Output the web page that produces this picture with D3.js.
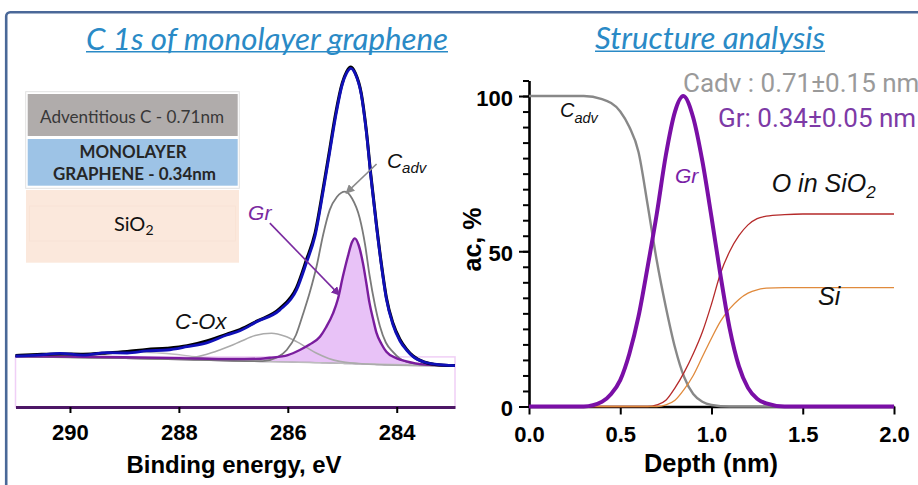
<!DOCTYPE html>
<html><head><meta charset="utf-8">
<script src="https://cdn.jsdelivr.net/npm/d3@7"></script>
<style>body{margin:0;background:#fff;} svg{display:block;}</style>
</head><body><svg id="c" width="918" height="485"></svg>
<script>
// ---------- LEFT: C 1s spectrum (binding energy in eV, intensity arb. units) ----------
const eEnv = [291.0,290.6,290.18,289.76,289.32,288.95,288.59,288.22,287.85,287.49,287.12,286.88,286.57,286.15,285.84,285.66,285.5,285.35,285.23,285.12,285.0,284.92,284.84,284.76,284.65,284.56,284.47,284.37,284.28,284.19,284.07,283.94,283.82,283.70,283.5,283.3,282.93];
const iEnvelope = [17.0,17.3,17.9,17.3,18.1,18.0,18.7,19.0,20.1,21.4,24.0,25.4,28.4,32.3,39,48,57,72,85,97,107.5,111.3,112.9,111,104,92,76,60,47,36,27.5,22,19,16.8,15,14.3,13.8];
const iRaw = [17.2,17.5,17.7,17.6,18.0,18.5,19.2,19.6,20.4,22.0,24.3,25.8,28.6,32.8,39.8,49,58,73,86,98,108,111.8,113.3,111.3,104.5,92.5,76.5,60.5,47.5,36.5,28,22.5,19.3,17,15,14.2,13.8];

const eGr = [291.0,290,289,288,287,286.5,286.33,286.0,285.78,285.6,285.41,285.3,285.17,285.08,284.99,284.9,284.82,284.77,284.7,284.62,284.56,284.5,284.43,284.37,284.28,284.19,284.0,283.82,283.52,282.93];
const iGr = [16.9,16.8,16.6,16.3,16.0,16.1,16.4,17.3,19.0,20.8,23.4,26.5,31.2,36.0,43.4,50.0,55.0,56.2,54.0,47.9,41.5,34.7,29.0,24.6,21.0,18.4,16.2,15.2,14.2,13.8];
const iBackground = [16.8,16.5,16.2,15.8,15.3,15.15,15.1,15.0,14.9,14.85,14.75,14.7,14.6,14.55,14.5,14.45,14.42,14.4,14.35,14.3,14.27,14.25,14.2,14.15,14.1,14.05,14.0,13.9,13.8,13.7];

const eCadv = [291.0,289,288,287,286.46,286.2,286.02,285.85,285.72,285.6,285.47,285.35,285.23,285.1,284.95,284.82,284.68,284.58,284.5,284.4,284.31,284.2,284.07,283.95,283.82,283.5,282.93];
const iCadv = [16.8,16.3,15.9,15.4,15.3,16.5,19,24,31,38,47,57.5,65.7,70,71.8,69.5,63,54,44,34,27,21.5,18.4,16.3,15,14.1,13.7];

const eCOx = [291.0,289,288.2,287.8,287.5,287.25,287.06,286.85,286.6,286.3,286.05,285.84,285.65,285.47,285.25,285.05,284.7,284.3,282.93];
const iCOx = [16.8,16.3,15.9,16.4,17.5,19,20.3,22,23.8,24.6,23.6,21.8,19.8,17.9,16.2,15.2,14.5,14.1,13.7];

const eCO2 = [291.0,290.2,289.6,289.1,288.7,288.3,287.9,287.5,287.0,286,282.93];
const iCO2 = [16.8,17.0,17.5,18.0,18.2,17.9,17.2,16.3,15.5,15.0,13.7];

const beTicks = [290,288,286,284];

// ---------- RIGHT: structure analysis (depth nm, atomic concentration %) ----------
const dCadv = [0,0.30,0.40,0.50,0.55,0.60,0.65,0.70,0.75,0.80,0.85,0.90,0.95,1.00,1.10,2.0];
const vCadv = [100,100,99,95,90,82,65,47,32,19,9.5,4,1.5,0.5,0,0];
const dGr = [0,0.30,0.40,0.45,0.50,0.55,0.60,0.65,0.70,0.75,0.80,0.845,0.90,0.95,1.00,1.05,1.10,1.15,1.20,1.25,1.30,1.40,2.0];
const vGr = [0,0,1.5,4,8.5,17,29,45,62,81,95,100,93,79,61,42,25,13,6,2.5,1,0,0];
const dO = [0,0.65,0.70,0.75,0.80,0.85,0.90,0.95,1.00,1.05,1.10,1.15,1.20,1.25,1.30,1.40,1.5,2.0];
const vO = [0,0,0.5,2,6,11,17,24,33,43,50,55,58.5,60.5,61.3,61.8,62,62];
const dSi = [0,0.70,0.75,0.80,0.85,0.90,0.95,1.00,1.05,1.10,1.15,1.20,1.25,1.30,1.40,2.0];
const vSi = [0,0,0.5,2,5.5,10,16,22,27.5,31.5,34.5,36.5,37.6,38.1,38.3,38.3];
const depthTicks = [0,0.5,1.0,1.5,2.0];
const acMajor = [0,50,100];

const svg = d3.select('#c');
const FS = "'Liberation Sans', Arial, sans-serif";

// frame
svg.append('rect').attr('x',6.2).attr('y',12.2).attr('width',1000).attr('height',1000).attr('rx',4)
  .attr('fill','none').attr('stroke','#4a6898').attr('stroke-width',2.6);

// titles
function title(txt, x, w, y){
  svg.append('text').attr('x',x).attr('y',y).attr('font-family',"Lato, 'Open Sans', sans-serif")
    .attr('font-style','italic').attr('font-size',30).attr('fill','#2a8ac6')
    .attr('textLength',w).attr('lengthAdjust','spacingAndGlyphs').text(txt);
  svg.append('line').attr('x1',x).attr('x2',x+w).attr('y1',y+2.3).attr('y2',y+2.3)
    .attr('stroke','#2a8ac6').attr('stroke-width',1.4);
}
title('C 1s of monolayer graphene', 86, 362, 49.5);
title('Structure analysis', 595, 230, 49);

// ---------- LEFT CHART ----------
const xL = d3.scaleLinear().domain([291, 282.93]).range([15.5, 455]);
const yL = d3.scaleLinear().domain([0, 120]).range([407, 47]);

// white box with pink edge
svg.append('rect').attr('x',xL(291)).attr('y',yL(16.7)).attr('width',xL(282.93)-xL(291)).attr('height',yL(0)-yL(16.7))
  .attr('fill','#fff').attr('stroke','#f0cff6').attr('stroke-width',1.5);

const ln = (ex, iy) => d3.line().x((d,i)=>xL(ex[i])).y((d,i)=>yL(iy[i])).curve(d3.curveMonotoneX)(iy);

// Gr fill
svg.append('path').attr('d', d3.area().x((d,i)=>xL(eGr[i])).y0((d,i)=>yL(iBackground[i])).y1((d,i)=>yL(iGr[i])).curve(d3.curveMonotoneX)(iGr))
  .attr('fill','#e8c2f7');
svg.append('path').attr('d', ln(eGr, iBackground)).attr('fill','none').attr('stroke','#9c8aa6').attr('stroke-width',1.2);
svg.append('path').attr('d', ln(eCO2, iCO2)).attr('fill','none').attr('stroke','#bdbdbd').attr('stroke-width',1.4);
svg.append('path').attr('d', ln(eCOx, iCOx)).attr('fill','none').attr('stroke','#ababab').attr('stroke-width',1.6);
svg.append('path').attr('d', ln(eCadv, iCadv)).attr('fill','none').attr('stroke','#7a7a7a').attr('stroke-width',1.8);
svg.append('path').attr('d', ln(eGr, iGr)).attr('fill','none').attr('stroke','#7a1d9e').attr('stroke-width',2.4);
svg.append('path').attr('d', ln(eEnv, iRaw)).attr('fill','none').attr('stroke','#000').attr('stroke-width',3);
svg.append('path').attr('d', ln(eEnv, iEnvelope)).attr('fill','none').attr('stroke','#1010b8').attr('stroke-width',2.8);

// x axis left
const axL = svg.append('g').attr('transform',`translate(0,${yL(0)})`)
  .call(d3.axisBottom(xL).tickValues(beTicks).tickSize(6).tickSizeOuter(0).tickPadding(11).tickFormat(d3.format('d')));
axL.select('.domain').attr('stroke','#4d1766').attr('stroke-width',3);
axL.selectAll('.tick line').attr('stroke','#000').attr('stroke-width',2);
axL.selectAll('.tick text').attr('font-family',FS).attr('font-weight','bold').attr('font-size',22).attr('fill','#000');
svg.append('text').attr('x',234).attr('y',473).attr('text-anchor','middle').attr('font-family',FS)
  .attr('font-weight','bold').attr('font-size',23.5).attr('textLength',215).attr('lengthAdjust','spacingAndGlyphs').text('Binding energy, eV');

// layer boxes
svg.append('rect').attr('x',25.7).attr('y',91.7).attr('width',213.6).attr('height',96.6).attr('fill','none').attr('stroke','#e2e2e2').attr('stroke-width',1);
svg.append('rect').attr('x',27.7).attr('y',94).attr('width',210).attr('height',42).attr('fill','#b0acab');
svg.append('rect').attr('x',27.7).attr('y',139).attr('width',210).attr('height',46.7).attr('fill','#9dc3e6');
svg.append('rect').attr('x',26).attr('y',190).attr('width',213).attr('height',72.7).attr('fill','#fbe8dc');
svg.append('rect').attr('x',29.5).attr('y',206).attr('width',206).attr('height',35).attr('fill','none').attr('stroke','#f8e2d4').attr('stroke-width',0.8);
const LF = "Lato, 'Open Sans', sans-serif";
svg.append('text').attr('x',40).attr('y',122.7).attr('font-family',LF).attr('font-size',18).attr('fill','#383838')
  .attr('textLength',184).attr('lengthAdjust','spacingAndGlyphs').text('Adventitious C - 0.71nm');
svg.append('text').attr('x',133).attr('y',158.3).attr('text-anchor','middle').attr('font-family',LF).attr('font-weight','bold').attr('font-size',16.5).attr('fill','#262626')
  .attr('textLength',107).attr('lengthAdjust','spacingAndGlyphs').text('MONOLAYER');
svg.append('text').attr('x',134.5).attr('y',180).attr('text-anchor','middle').attr('font-family',LF).attr('font-weight','bold').attr('font-size',16.5).attr('fill','#262626')
  .attr('textLength',163).attr('lengthAdjust','spacingAndGlyphs').text('GRAPHENE - 0.34nm');
const sio = svg.append('text').attr('x',114).attr('y',230.7).attr('font-family',LF).attr('font-size',20).attr('fill','#111');
sio.append('tspan').text('SiO');
sio.append('tspan').attr('font-size',14).attr('dy',4).text('2');

// markers
const defs = svg.append('defs');
function marker(id,color){
  defs.append('marker').attr('id',id).attr('viewBox','0 0 10 10').attr('refX',9).attr('refY',5)
    .attr('markerWidth',9).attr('markerHeight',9).attr('markerUnits','userSpaceOnUse').attr('orient','auto')
    .append('path').attr('d','M0,0L10,5L0,10Z').attr('fill',color);
}
marker('ag','#8a8a8a'); marker('ap','#7a2aa0');

// annotations left
svg.append('line').attr('x1',xL(284.37)).attr('y1',yL(81)).attr('x2',xL(284.93)).attr('y2',yL(71.3))
  .attr('stroke','#8a8a8a').attr('stroke-width',1.6).attr('marker-end','url(#ag)');
svg.append('line').attr('x1',xL(286.33)).attr('y1',yL(61.3)).attr('x2',xL(285.05)).attr('y2',yL(37.3))
  .attr('stroke','#7a2aa0').attr('stroke-width',1.6).attr('marker-end','url(#ap)');
const cl = svg.append('text').attr('x',xL(284.18)).attr('y',yL(79.7)).attr('font-family',FS).attr('font-style','italic').attr('font-size',21).attr('fill','#111');
cl.append('tspan').text('C'); cl.append('tspan').attr('font-size',15).attr('dy',5).text('adv');
svg.append('text').attr('x',xL(286.73)).attr('y',yL(62.3)).attr('font-family',FS).attr('font-style','italic').attr('font-size',21).attr('fill','#7a2aa0').text('Gr');
svg.append('text').attr('x',xL(288.07)).attr('y',yL(26)).attr('font-family',FS).attr('font-style','italic').attr('font-size',22).attr('fill','#111').text('C-Ox');

// ---------- RIGHT CHART ----------
const xR = d3.scaleLinear().domain([0,2]).range([529,894]);
const yR = d3.scaleLinear().domain([0,105]).range([406.5,80.5]);

const ayMin = svg.append('g').attr('transform',`translate(${xR(0)},0)`)
  .call(d3.axisLeft(yR).tickValues(d3.range(0,106,5)).tickSize(6).tickSizeOuter(0).tickFormat(''));
ayMin.select('.domain').attr('stroke','#000').attr('stroke-width',2.6);
ayMin.selectAll('.tick line').attr('stroke','#000').attr('stroke-width',2);
const ayMaj = svg.append('g').attr('transform',`translate(${xR(0)},0)`)
  .call(d3.axisLeft(yR).tickValues(acMajor).tickSize(10).tickSizeOuter(0).tickPadding(6));
ayMaj.select('.domain').remove();
ayMaj.selectAll('.tick line').attr('stroke','#000').attr('stroke-width',2);
ayMaj.selectAll('.tick text').attr('font-family',FS).attr('font-weight','bold').attr('font-size',22).attr('fill','#000').attr('dy','0.42em');

const axR = svg.append('g').attr('transform',`translate(0,${yR(0)})`)
  .call(d3.axisBottom(xR).tickValues(depthTicks).tickSize(8).tickSizeOuter(0).tickPadding(12).tickFormat(d3.format('.1f')));
axR.select('.domain').attr('stroke','#000').attr('stroke-width',2.6);
axR.selectAll('.tick line').attr('stroke','#000').attr('stroke-width',2);
axR.selectAll('.tick text').attr('font-family',FS).attr('font-weight','bold').attr('font-size',22).attr('fill','#000');

svg.append('text').attr('x',711).attr('y',471.5).attr('text-anchor','middle').attr('font-family',FS)
  .attr('font-weight','bold').attr('font-size',25).attr('textLength',134).attr('lengthAdjust','spacingAndGlyphs').text('Depth (nm)');
svg.append('text').attr('transform','translate(481,239.5) rotate(-90)').attr('text-anchor','middle').attr('font-family',FS)
  .attr('font-weight','bold').attr('font-size',25).text('ac, %');

const lnR = (dx, vy) => d3.line().x((d,i)=>xR(dx[i])).y((d,i)=>yR(vy[i])).curve(d3.curveMonotoneX)(vy);
svg.append('path').attr('d', lnR(dCadv, vCadv)).attr('fill','none').attr('stroke','#888').attr('stroke-width',2.4);
svg.append('path').attr('d', lnR(dO, vO)).attr('fill','none').attr('stroke','#b52a2a').attr('stroke-width',1.3);
svg.append('path').attr('d', lnR(dSi, vSi)).attr('fill','none').attr('stroke','#e08a3c').attr('stroke-width',1.3);
svg.append('path').attr('d', lnR(dGr, vGr)).attr('fill','none').attr('stroke','#7a0fa6').attr('stroke-width',4);

// right annotations (kept fully inside the page)
const RF = "Roboto, 'Liberation Sans', sans-serif";
svg.append('text').attr('x',683).attr('y',92).attr('font-family',RF).attr('font-size',26).attr('fill','#9a9a9a').text('Cadv : 0.71±0.15 nm');
svg.append('text').attr('x',718).attr('y',127).attr('font-family',RF).attr('font-size',26).attr('fill','#7d3aa6').text('Gr: 0.34±0.05 nm');
const c2 = svg.append('text').attr('x',xR(0.17)).attr('y',yR(93.2)).attr('font-family',FS).attr('font-style','italic').attr('font-size',20).attr('fill','#111');
c2.append('tspan').text('C'); c2.append('tspan').attr('font-size',14.5).attr('dy',5.5).text('adv');
svg.append('text').attr('x',xR(0.80)).attr('y',yR(72)).attr('font-family',FS).attr('font-style','italic').attr('font-size',21).attr('fill','#7a1fa6').text('Gr');
const os = svg.append('text').attr('x',xR(1.33)).attr('y',yR(69)).attr('font-family',FS).attr('font-style','italic').attr('font-size',25).attr('fill','#111');
os.append('tspan').text('O in SiO'); os.append('tspan').attr('font-size',17).attr('dy',6).text('2');
svg.append('text').attr('x',xR(1.584)).attr('y',yR(32.7)).attr('font-family',FS).attr('font-style','italic').attr('font-size',25).attr('fill','#111').text('Si');
</script></body></html>
